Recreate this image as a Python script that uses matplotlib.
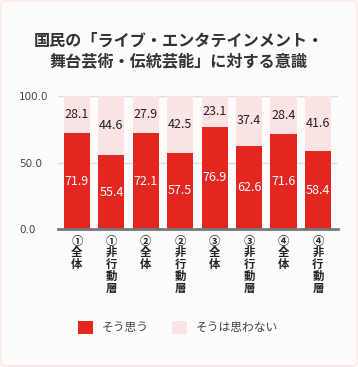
import matplotlib
matplotlib.use("Agg")
import matplotlib.pyplot as plt
from matplotlib.patches import FancyBboxPatch, Patch
import numpy as np

plt.rcParams['font.family'] = ['Noto Sans CJK JP', 'DejaVu Sans']

TITLE = "国民の「ライブ・エンタテインメント・\n舞台芸術・伝統芸能」に対する意識"
CATEGORIES = ["①全体", "①非行動層", "②全体", "②非行動層",
              "③全体", "③非行動層", "④全体", "④非行動層"]
YES = [71.9, 55.4, 72.1, 57.5, 76.9, 62.6, 71.6, 58.4]
NO = [28.1, 44.6, 27.9, 42.5, 23.1, 37.4, 28.4, 41.6]
SERIES = ["そう思う", "そうは思わない"]
YTICKS = [0, 50, 100]

RED = "#e32620"
PINK = "#fde4e4"
BG = "#fdfcfa"

fig = plt.figure(figsize=(3.58, 3.67), dpi=100, facecolor=BG)
border = FancyBboxPatch((0.003, 0.003), 0.994, 0.994, boxstyle="round,pad=0,rounding_size=0.01",
                        transform=fig.transFigure, facecolor=BG, edgecolor="#fbe6e4",
                        linewidth=1.0, zorder=-10)
fig.patches.append(border)

ax = fig.add_axes([0.162, 0.376, 0.782, 0.362])
ax.set_facecolor("none")

x = np.arange(len(CATEGORIES))
w = 0.76
ax.bar(x, YES, width=w, color=RED, zorder=3)
ax.bar(x, NO, width=w, bottom=YES, color=PINK, zorder=3)

for xi, y, n in zip(x, YES, NO):
    ax.text(xi, y / 2, f"{y:.1f}", ha="center", va="center", color="white",
            fontsize=9, zorder=4)
    ax.text(xi, y + n / 2, f"{n:.1f}", ha="center", va="center", color="#222222",
            fontsize=9, zorder=4)

ax.set_xlim(-0.55, 7.58)
ax.set_ylim(0, 100)
ax.set_yticks(YTICKS)
ax.set_yticklabels([f"{v:.1f}" for v in YTICKS], fontsize=7.5, color="#444444",
                   ha="left", family=["DejaVu Sans"])
ax.tick_params(axis="y", length=0, pad=28)
for v in YTICKS[1:]:
    ax.axhline(v, color="#dddddd", linewidth=1, zorder=1)

ax.set_xticks(x)
ax.set_xticklabels(["\n".join(c) for c in CATEGORIES], fontsize=8.2, fontweight="bold",
                   color="#222222", linespacing=0.88, va="top")
ax.tick_params(axis="x", length=0, pad=4)

for s in ["top", "right", "left"]:
    ax.spines[s].set_visible(False)
ax.spines["bottom"].set_color("#777777")
ax.spines["bottom"].set_linewidth(2)
ax.spines["bottom"].set_zorder(5)

fig.text(0.5, 0.861, TITLE, ha="center", va="center", fontsize=11.6, fontweight="bold",
         color="#333333", linespacing=1.3)

handles = [Patch(facecolor=RED), Patch(facecolor=PINK)]
fig.legend(handles, SERIES, loc="center", bbox_to_anchor=(0.497, 0.108), ncol=2,
           frameon=False, fontsize=8.5, handlelength=1.3, handleheight=1.3,
           columnspacing=2.0, handletextpad=0.7, labelcolor="#444444")

fig.savefig("out.png", dpi=100, facecolor=BG)
